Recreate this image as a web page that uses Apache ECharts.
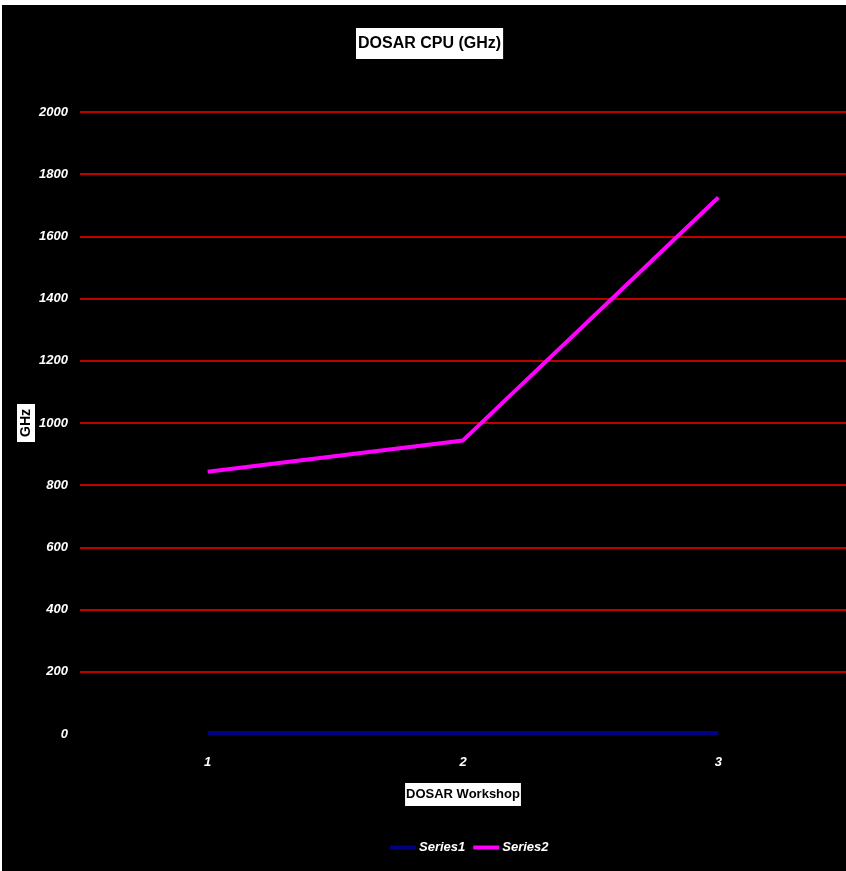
<!DOCTYPE html>
<html>
<head>
<meta charset="utf-8">
<title>DOSAR CPU (GHz)</title>
<script src="https://cdn.jsdelivr.net/npm/echarts@6/dist/echarts.min.js"></script>
<style>
  html, body { margin: 0; padding: 0; background: #fff; }
  #main { position: absolute; left: 2px; top: 5px; width: 844px; height: 866px; background: #000; }
</style>
</head>
<body>
<div id="main"></div>
<script>
// workshops on the x axis
var workshops = ['1', '2', '3'];
// GHz values
var series1 = [3, 3, 3];
var series2 = [843, 944, 1725];
var yTicks = [0, 200, 400, 600, 800, 1000, 1200, 1400, 1600, 1800, 2000];

var sans = "'Liberation Sans', Arial, sans-serif";

var myChart = echarts.init(document.getElementById('main'));
myChart.setOption({
    backgroundColor: '#000',
    animation: false,
    title: {
        text: 'DOSAR CPU (GHz)',
        left: 354,
        top: 23,
        backgroundColor: '#fff',
        padding: [6, 2],
        textStyle: {
            color: '#000',
            fontFamily: sans,
            fontWeight: 'bold',
            fontSize: 16,
            lineHeight: 19
        }
    },
    legend: {
        left: 388,
        top: 836,
        padding: 0,
        icon: 'rect',
        itemWidth: 26,
        itemHeight: 4,
        itemGap: 8,
        data: ['Series1', 'Series2'],
        textStyle: {
            color: '#fff',
            fontFamily: sans,
            fontStyle: 'italic',
            fontWeight: 'bold',
            fontSize: 13,
            padding: [0, 0, 0, -2]
        }
    },
    grid: {
        left: 78,
        right: 0,
        top: 107,
        bottom: 137,
        outerBoundsMode: 'none',
        containLabel: false
    },
    xAxis: {
        type: 'category',
        data: workshops,
        boundaryGap: true,
        axisLine: {show: false},
        axisTick: {show: false},
        axisLabel: {
            margin: 22,
            color: '#fff',
            fontFamily: sans,
            fontStyle: 'italic',
            fontWeight: 'bold',
            fontSize: 13
        },
        name: 'DOSAR Workshop',
        nameLocation: 'middle',
        nameGap: 49,
        nameMoveOverlap: false,
        nameTextStyle: {
            color: '#000',
            fontFamily: sans,
            fontWeight: 'bold',
            fontSize: 13,
            lineHeight: 15,
            backgroundColor: '#fff',
            padding: [4, 1]
        }
    },
    yAxis: {
        type: 'value',
        min: yTicks[0],
        max: yTicks[yTicks.length - 1],
        interval: 200,
        axisLine: {show: false},
        axisTick: {show: false},
        axisLabel: {
            margin: 12,
            color: '#fff',
            fontFamily: sans,
            fontStyle: 'italic',
            fontWeight: 'bold',
            fontSize: 13,
            formatter: function (v) { return String(v); }
        },
        splitLine: {
            show: true,
            showMinLine: false,
            lineStyle: {color: '#ff0000', width: 1.6}
        },
        name: 'GHz',
        nameLocation: 'middle',
        nameRotate: 90,
        nameGap: 45,
        nameMoveOverlap: false,
        nameTextStyle: {
            color: '#000',
            fontFamily: sans,
            fontWeight: 'bold',
            fontSize: 14,
            lineHeight: 16,
            backgroundColor: '#fff',
            padding: [1, 5]
        }
    },
    series: [
        {
            name: 'Series1',
            type: 'line',
            data: series1,
            symbol: 'none',
            itemStyle: {color: '#000080'},
            lineStyle: {color: '#000080', width: 4}
        },
        {
            name: 'Series2',
            type: 'line',
            data: series2,
            symbol: 'none',
            itemStyle: {color: '#ff00ff'},
            lineStyle: {color: '#ff00ff', width: 4}
        }
    ]
});
</script>
</body>
</html>
